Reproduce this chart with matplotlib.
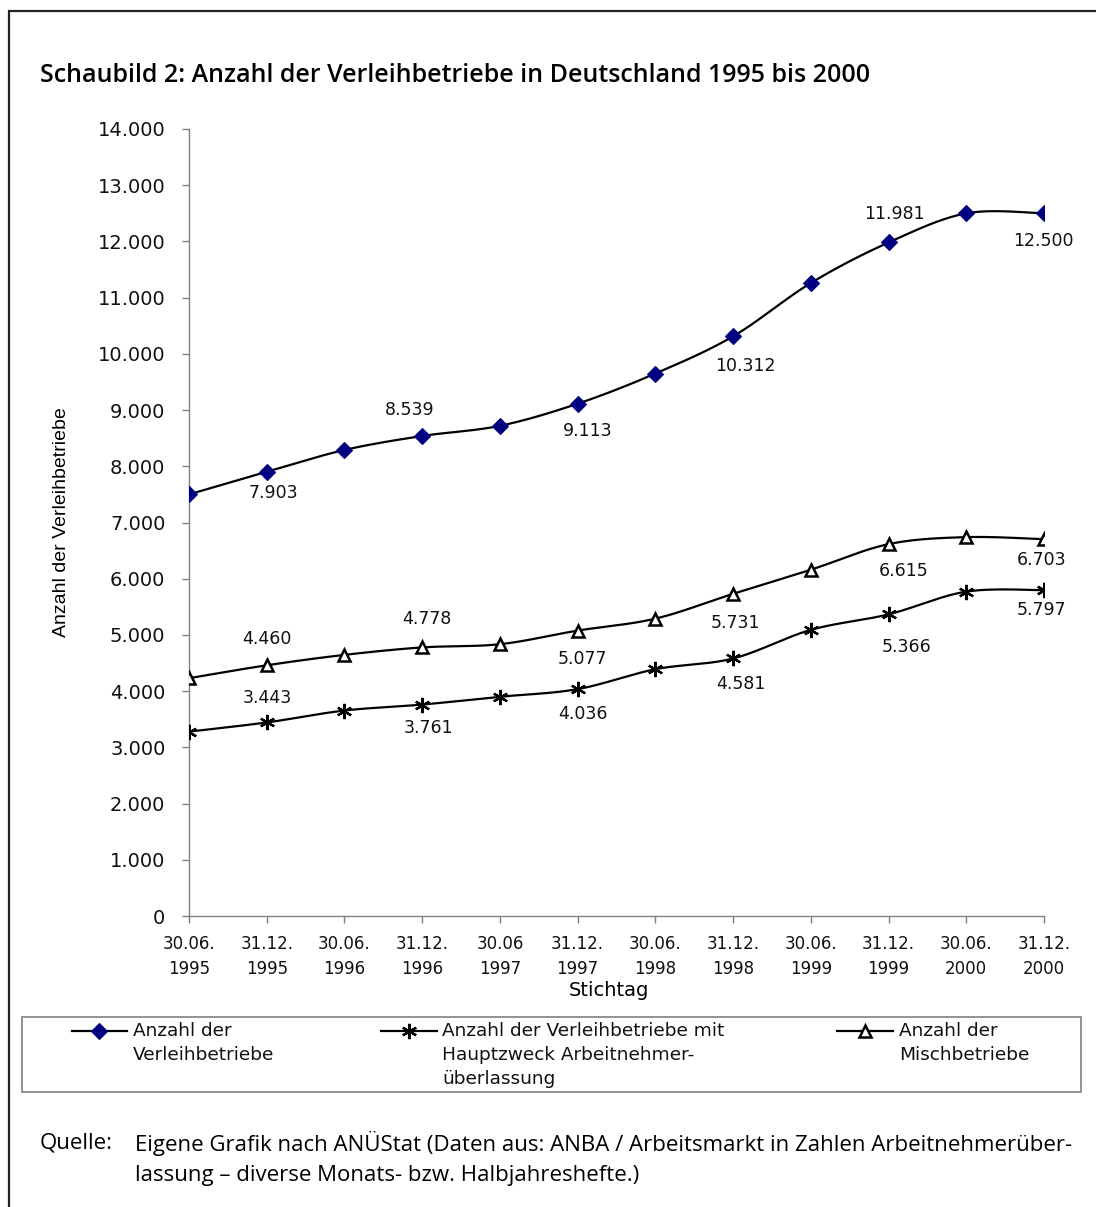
import numpy as np
import matplotlib
matplotlib.use("Agg")
import matplotlib.pyplot as plt
from matplotlib.lines import Line2D
from matplotlib.patches import Rectangle

# --- data ---
stichtage = ["30.06.\n1995", "31.12.\n1995", "30.06.\n1996", "31.12.\n1996",
             "30.06\n1997", "31.12.\n1997", "30.06.\n1998", "31.12.\n1998",
             "30.06.\n1999", "31.12.\n1999", "30.06.\n2000", "31.12.\n2000"]
verleihbetriebe = [7500, 7903, 8290, 8539, 8720, 9113, 9650, 10312, 11260, 11981, 12500, 12500]
hauptzweck = [3280, 3443, 3655, 3761, 3900, 4036, 4390, 4581, 5090, 5366, 5770, 5797]
mischbetriebe = [4230, 4460, 4645, 4778, 4835, 5077, 5290, 5731, 6160, 6615, 6740, 6703]
yticks = list(range(0, 14001, 1000))

# which points carry a value label, and where (offset in px: dx, dy up)
label_pos_top = {1: (7, -21), 3: (-12, 26), 5: (10, -27), 7: (12, -30), 9: (6, 28), 11: (-1, -28)}
label_pos_misch = {1: (0, 26), 3: (5, 28), 5: (5, -28), 7: (2, -29), 9: (15, -27), 11: (-2, -21)}
label_pos_haupt = {1: (1, 24), 3: (6, -23), 5: (5, -25), 7: (8, -26), 9: (18, -33), 11: (-2, -20)}

W, H = 1096, 1207


def fmt(v):
    return f"{v:,}".replace(",", ".")


def smooth(xs, ys, n=40):
    # Catmull-Rom style bezier smoothing (like Excel "smoothed line")
    p = np.column_stack([xs, ys]).astype(float)
    out = []
    t = np.linspace(0, 1, n)[:, None]
    for i in range(len(p) - 1):
        p0 = p[max(i - 1, 0)]
        p1 = p[i]
        p2 = p[i + 1]
        p3 = p[min(i + 2, len(p) - 1)]
        c1 = p1 + (p2 - p0) / 6
        c2 = p2 - (p3 - p1) / 6
        seg = ((1 - t) ** 3) * p1 + 3 * ((1 - t) ** 2) * t * c1 + 3 * (1 - t) * t ** 2 * c2 + t ** 3 * p2
        out.append(seg if i == 0 else seg[1:])
    out = np.vstack(out)
    return out[:, 0], out[:, 1]


fig = plt.figure(figsize=(W / 100, H / 100), dpi=100)
fig.patch.set_facecolor("white")

# outer frame (open to the right / bottom like the cropped page)
fig.add_artist(Rectangle((9 / W, -0.05), 1.2, 1.05 - 11 / H, transform=fig.transFigure,
                         fill=False, edgecolor="#222222", linewidth=1.6))

ax = fig.add_axes([189 / W, 1 - 916 / H, (1044 - 189) / W, (916 - 129) / H])
x = np.arange(len(stichtage))

series = [
    (verleihbetriebe, dict(marker="D", markersize=8, markerfacecolor="#000080",
                           markeredgecolor="#000080", markeredgewidth=0.8), label_pos_top),
    (hauptzweck, dict(marker=(6, 2, 0), markersize=11, markerfacecolor="black",
                      markeredgecolor="black", markeredgewidth=1.6), label_pos_haupt),
    (mischbetriebe, dict(marker="^", markersize=9, markerfacecolor="white",
                         markeredgecolor="black", markeredgewidth=1.8), label_pos_misch),
]

for vals, mstyle, lpos in series:
    sx, sy = smooth(x, vals)
    ax.plot(sx, sy, color="black", linewidth=1.6, zorder=2)
    ax.plot(x, vals, linestyle="none", zorder=3, **mstyle)
    for i, (dx, dy) in lpos.items():
        ax.annotate(fmt(vals[i]), (x[i], vals[i]), xytext=(dx * 0.72, dy * 0.72),
                    textcoords="offset points", ha="center", va="center",
                    fontsize=12.5, family="DejaVu Sans", color="#111111")

ax.set_xlim(0, len(stichtage) - 1)
ax.set_ylim(0, 14000)
ax.set_yticks(yticks)
ax.set_yticklabels([fmt(v) for v in yticks], fontsize=14, family="DejaVu Sans")
ax.set_xticks(x)
ax.set_xticklabels(stichtage, fontsize=12, family="DejaVu Sans", linespacing=1.5)
for s in ["top", "right"]:
    ax.spines[s].set_visible(False)
for s in ["left", "bottom"]:
    ax.spines[s].set_color("#808080")
    ax.spines[s].set_linewidth(1.0)
ax.tick_params(axis="y", direction="out", length=5, width=1, color="#808080", pad=12)
ax.tick_params(axis="x", direction="out", length=5, width=1, color="#808080", pad=9)
for lbl in ax.get_yticklabels() + ax.get_xticklabels():
    lbl.set_color("#111111")

fig.text(609 / W, 1 - 991 / H, "Stichtag", ha="center", va="center", fontsize=14,
         family="DejaVu Sans")
fig.text(62 / W, 1 - 522 / H, "Anzahl der Verleihbetriebe", rotation=90, ha="center",
         va="center", fontsize=14, family="Liberation Sans")

# title
fig.text(40 / W, 1 - 75 / H, "Schaubild 2: Anzahl der Verleihbetriebe in Deutschland 1995 bis 2000",
         ha="left", va="center", fontsize=18, family="Open Sans", fontweight="semibold")

# legend box
fig.add_artist(Rectangle((22 / W, 1 - 1092 / H), (1081 - 22) / W, (1092 - 1017) / H,
                         transform=fig.transFigure, fill=False, edgecolor="#808080", linewidth=1.2))
legend_items = [
    (72, 127, 133, "Anzahl der\nVerleihbetriebe", series[0][1]),
    (381, 437, 442, "Anzahl der Verleihbetriebe mit\nHauptzweck Arbeitnehmer-\nüberlassung", series[1][1]),
    (837, 893, 899, "Anzahl der\nMischbetriebe", series[2][1]),
]
ly = 1 - 1031 / H
for x0, x1, tx, txt, mstyle in legend_items:
    fig.add_artist(Line2D([x0 / W, x1 / W], [ly, ly], transform=fig.transFigure,
                          color="black", linewidth=1.6))
    fig.add_artist(Line2D([(x0 + x1) / 2 / W], [ly], transform=fig.transFigure,
                          linestyle="none", **mstyle))
    fig.text(tx / W, 1 - 1022 / H, txt, ha="left", va="top", fontsize=13.3,
             family="DejaVu Sans", linespacing=1.42, color="#111111")

# source
fig.text(40 / W, 1 - 1143 / H, "Quelle:", ha="left", va="center", fontsize=16, family="Open Sans")
fig.text(135 / W, 1 - 1143 / H,
         "Eigene Grafik nach ANÜStat (Daten aus: ANBA / Arbeitsmarkt in Zahlen Arbeitnehmerüber-",
         ha="left", va="center", fontsize=16, family="Open Sans")
fig.text(135 / W, 1 - 1176 / H, "lassung – diverse Monats- bzw. Halbjahreshefte.)",
         ha="left", va="center", fontsize=16, family="Open Sans")

fig.savefig("out.png", dpi=100)
